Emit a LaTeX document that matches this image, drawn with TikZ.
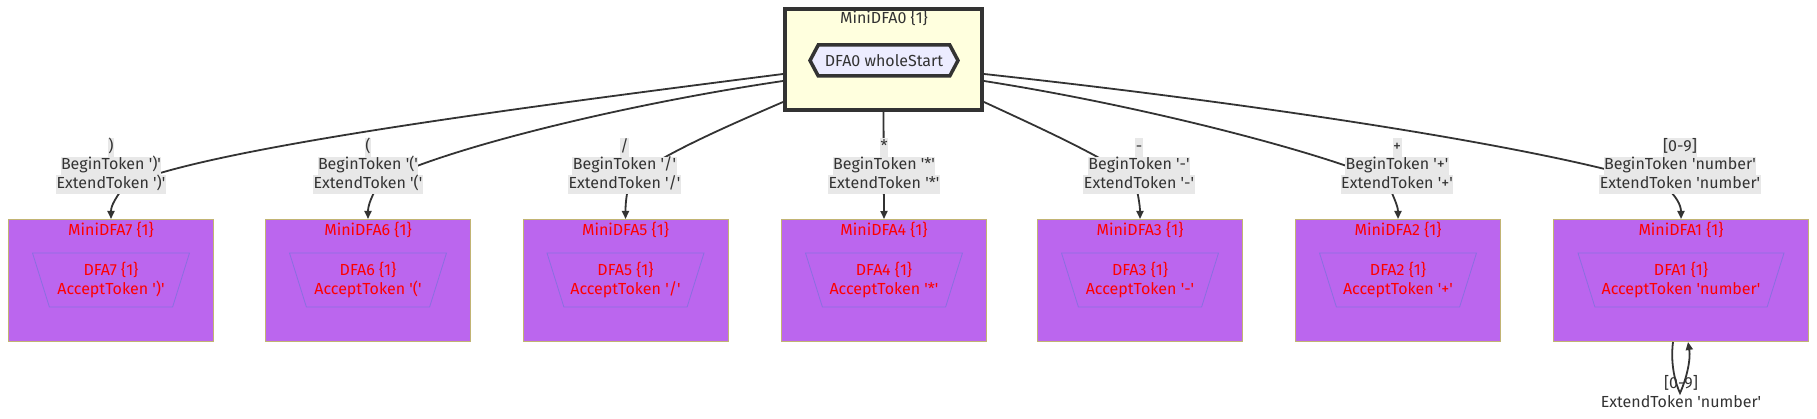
\documentclass[tikz,border=0pt]{standalone}
\usepackage{fontspec}
\setmainfont{Fira Sans}
\usetikzlibrary{arrows.meta,shapes.geometric,shapes.symbols,calc}
\definecolor{txt}{HTML}{333333}
\definecolor{lblgray}{HTML}{E8E8E8}
\definecolor{purp}{HTML}{BB66EE}
\definecolor{purpborder}{HTML}{C2B473}
\definecolor{trapline}{HTML}{8A6FE0}
\definecolor{topfill}{HTML}{FFFFDE}
\definecolor{hexfill}{HTML}{ECECFF}
\definecolor{redtxt}{HTML}{FF0000}
\newcommand\tq{\textquotesingle}
\pgfdeclarelayer{bg}
\pgfsetlayers{bg,main}
\begin{document}
\begin{tikzpicture}[x=1pt,y=-1pt,
  font=\fontsize{16}{18.3}\selectfont,
  topbox/.style={draw=txt, line width=4pt, fill=topfill, minimum width=197pt, minimum height=101pt, inner sep=0pt},
  hexnode/.style={signal, signal to=west and east, signal pointer angle=124, minimum width=148pt, minimum height=31pt, draw=txt, line width=3.5pt, fill=hexfill, inner sep=0pt, text=txt},
  toptitle/.style={text=txt, inner sep=0pt},
  minibox/.style={draw=purpborder, line width=1pt, fill=purp, minimum width=205pt, minimum height=122pt, inner sep=0pt},
  wideminibox/.style={minibox, minimum width=255pt},
  minititle/.style={text=redtxt, inner sep=0pt},
  trap/.style={trapezium, trapezium angle=64.3, shape border rotate=180, trapezium stretches body, minimum width=157pt, minimum height=54pt, draw=trapline, line width=0.8pt, text=redtxt, align=center, inner sep=0pt},
  widetrap/.style={trap, minimum width=206pt},
  elab/.style={fill=lblgray, text=txt, inner xsep=0.5pt, inner ysep=0pt, text height=12.8pt, text depth=5.7pt},
  looplab/.style={text=txt, inner sep=0pt},
  edge/.style={draw=txt, line width=1.8pt, -{Triangle[length=8pt,width=7pt]}}
]
\useasboundingbox (0,0) rectangle (1817,419);

% top cluster
\node[topbox] (top) at (883.5,59.5) {};
\node[toptitle] (top title) at (884,18) {MiniDFA0 \{1\}};
\node[hexnode] (hex) at (884,60.5) {DFA0 wholeStart};

% mini clusters
\node[minibox] (b7) at (111,280.5) {};
\node[minibox] (b6) at (368,280.5) {};
\node[minibox] (b5) at (625.5,280.5) {};
\node[minibox] (b4) at (884,280.5) {};
\node[minibox] (b3) at (1140,280.5) {};
\node[minibox] (b2) at (1398,280.5) {};
\node[wideminibox] (b1) at (1681,280.5) {};

\node[minititle] (t7) at (111,230) {MiniDFA7 \{1\}};
\node[minititle] (t6) at (368,230) {MiniDFA6 \{1\}};
\node[minititle] (t5) at (625.5,230) {MiniDFA5 \{1\}};
\node[minititle] (t4) at (884,230) {MiniDFA4 \{1\}};
\node[minititle] (t3) at (1140,230) {MiniDFA3 \{1\}};
\node[minititle] (t2) at (1398,230) {MiniDFA2 \{1\}};
\node[minititle] (t1) at (1681,230) {MiniDFA1 \{1\}};

\node[trap] (d7) at (111,280) {DFA7 \{1\}\\AcceptToken \tq)\tq};
\node[trap] (d6) at (368,280) {DFA6 \{1\}\\AcceptToken \tq(\tq};
\node[trap] (d5) at (625.5,280) {DFA5 \{1\}\\AcceptToken \tq/\tq};
\node[trap] (d4) at (884,280) {DFA4 \{1\}\\AcceptToken \tq*\tq};
\node[trap] (d3) at (1140,280) {DFA3 \{1\}\\AcceptToken \tq-\tq};
\node[trap] (d2) at (1398,280) {DFA2 \{1\}\\AcceptToken \tq+\tq};
\node[widetrap] (d1) at (1681,280) {DFA1 \{1\}\\AcceptToken \tq number\tq};

% edge labels
\node[elab] (l7a) at (111,147.5) {)};
\node[elab] (l7b) at (111,166) {BeginToken \tq)\tq};
\node[elab] (l7c) at (111,184.5) {ExtendToken \tq)\tq};
\node[elab] (l6a) at (368,147.5) {(};
\node[elab] (l6b) at (368,166) {BeginToken \tq(\tq};
\node[elab] (l6c) at (368,184.5) {ExtendToken \tq(\tq};
\node[elab] (l5a) at (624.5,147.5) {/};
\node[elab] (l5b) at (624.5,166) {BeginToken \tq/\tq};
\node[elab] (l5c) at (624.5,184.5) {ExtendToken \tq/\tq};
\node[elab] (l4a) at (884,147.5) {*};
\node[elab] (l4b) at (884,166) {BeginToken \tq*\tq};
\node[elab] (l4c) at (884,184.5) {ExtendToken \tq*\tq};
\node[elab] (l3a) at (1139,147.5) {-};
\node[elab] (l3b) at (1139,166) {BeginToken \tq-\tq};
\node[elab] (l3c) at (1139,184.5) {ExtendToken \tq-\tq};
\node[elab] (l2a) at (1397,147.5) {+};
\node[elab] (l2b) at (1397,166) {BeginToken \tq+\tq};
\node[elab] (l2c) at (1397,184.5) {ExtendToken \tq+\tq};
\node[elab] (l1a) at (1680,147.5) {[0-9]};
\node[elab] (l1b) at (1680,166) {BeginToken \tq number\tq};
\node[elab] (l1c) at (1680,184.5) {ExtendToken \tq number\tq};

% self loop label
\node[looplab] (s1a) at (1681,383) {[0-9]};
\node[looplab] (s1b) at (1681,402) {ExtendToken \tq number\tq};

\begin{pgfonlayer}{bg}
\draw[edge] ($(top.north west)+(0,67)$) .. controls (500,110) and (200,150) .. (124,186)
  .. controls (116,198) and (111,205) .. (b7.north);
\draw[edge] ($(top.north west)+(0,74)$) .. controls (620,105) and (440,150) .. (380,182)
  .. controls (372,195) and (368,205) .. (b6.north);
\draw[edge] ($(top.north west)+(0,95)$) .. controls (730,125) and (660,155) .. (630,180)
  .. controls (626,195) and (625.5,205) .. (b5.north);
\draw[edge] (top.south) -- (b4.north);
\draw[edge] ($(top.north east)+(0,95)$) .. controls (1040,128) and (1100,155) .. (1135,180)
  .. controls (1138,195) and (1140,205) .. (b3.north);
\draw[edge] ($(top.north east)+(0,74)$) .. controls (1150,107) and (1330,155) .. (1388,182)
  .. controls (1392,195) and (1398,205) .. (b2.north);
\draw[edge] ($(top.north east)+(0,67)$) .. controls (1270,105) and (1560,150) .. (1665,186)
  .. controls (1676,196) and (1681,205) .. (b1.north);
\end{pgfonlayer}

% self loop (drawn over its label)
\draw[edge] ([xshift=-8pt]b1.south) .. controls (1670,365) and (1676,385) .. (1680,393)
  .. controls (1686,380) and (1691,360) .. ([xshift=7pt]b1.south);
\end{tikzpicture}
\end{document}
